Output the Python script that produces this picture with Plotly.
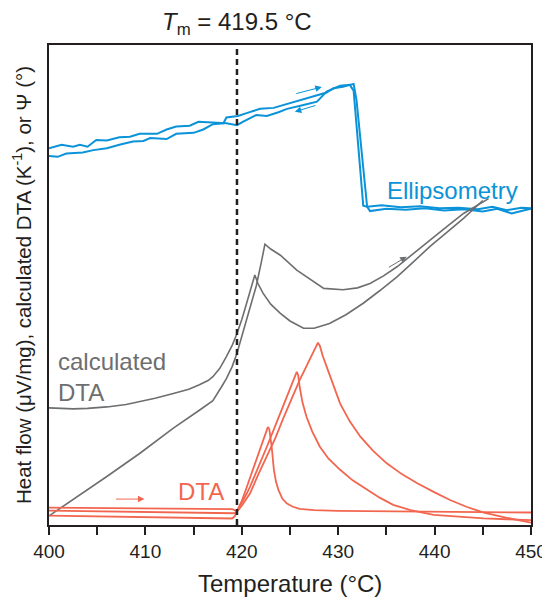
import plotly.graph_objects as go

# ---------------- data ----------------
# Ellipsometry (Psi), two sweeps
ell_a_T = [400.0, 400.9, 401.8, 403.5, 404.6, 406.0, 407.3, 408.7, 409.8, 410.5, 412.2, 413.2,
           415.0, 416.0, 417.0, 418.1, 418.4, 419.6, 420.5, 421.9, 423.3, 424.3, 425.7, 426.7,
           427.8, 428.8, 429.5, 430.5, 431.6, 431.9, 433.0, 433.3, 435.0, 437.0, 439.0, 441.0,
           443.0, 445.0, 446.5, 448.0, 449.0, 450.0]
ell_a_v = [76.9, 76.7, 77.4, 77.6, 78.1, 78.5, 79.2, 79.9, 80.0, 80.6, 80.4, 81.5,
           81.7, 82.4, 83.5, 83.7, 84.9, 85.2, 85.8, 86.7, 86.9, 87.5, 88.2, 88.9,
           89.6, 90.1, 91.0, 91.3, 91.9, 88.5, 66.3, 65.4, 65.9, 65.7, 66.0, 65.5,
           65.8, 65.3, 65.9, 64.9, 65.4, 65.9]
ell_b_T = [400.0, 401.3, 402.5, 403.2, 404.0, 404.9, 406.0, 407.3, 408.4, 409.4, 411.2, 412.2,
           413.2, 414.6, 415.5, 416.7, 418.4, 419.5, 420.1, 421.5, 422.6, 423.8, 424.7, 426.4,
           427.8, 428.8, 430.2, 431.2, 431.6, 432.6, 433.0, 434.5, 436.5, 438.5, 440.5, 442.5,
           444.5, 446.0, 447.5, 449.0, 450.0]
ell_b_v = [78.5, 79.2, 78.8, 79.2, 78.8, 80.2, 80.1, 80.8, 80.9, 81.5, 81.5, 82.4,
           83.0, 83.2, 84.0, 83.9, 83.7, 83.3, 84.0, 85.4, 85.2, 86.0, 86.7, 87.5,
           88.2, 90.3, 91.5, 91.7, 90.5, 66.5, 66.3, 66.6, 66.2, 66.4, 66.0, 66.1,
           65.8, 66.3, 65.6, 66.1, 66.0]

# calculated DTA, two sweeps
cdta_a_T = [400.0, 401.0, 402.5, 404.0, 406.0, 408.0, 409.4, 411.0, 412.9, 414.5, 415.6, 416.5,
            417.0, 417.7, 418.4, 419.0, 419.5, 420.0, 420.5, 421.0, 421.35, 421.7, 422.2, 423.0,
            424.0, 425.0, 426.4, 427.5, 429.1, 430.8, 432.6, 434.3, 436.1, 437.8, 439.5, 441.3,
            443.0, 445.0]
cdta_a_v = [24.4, 24.3, 24.2, 24.3, 24.6, 25.1, 25.7, 26.4, 27.4, 28.3, 29.2, 30.1,
            30.9, 32.6, 35.1, 37.4, 39.9, 42.8, 46.2, 49.5, 52.1, 50.2, 48.3, 46.0,
            44.1, 42.5, 41.0, 41.0, 42.0, 43.8, 46.2, 48.8, 51.7, 54.8, 58.0, 61.0,
            63.9, 67.6]
cdta_b_T = [400.0, 402.5, 406.0, 409.4, 412.9, 415.6, 417.0, 417.9, 418.4, 419.0, 419.5, 420.1,
            420.5, 421.0, 421.5, 422.0, 422.4, 423.0, 424.0, 425.7, 427.4, 428.5, 430.5, 432.0,
            433.3, 434.7, 436.1, 437.8, 439.5, 441.3, 443.0, 445.6]
cdta_b_v = [1.9, 5.3, 10.1, 14.9, 20.2, 23.9, 25.9, 28.8, 30.5, 33.0, 35.8, 40.0,
            42.7, 46.0, 49.8, 54.5, 58.5, 57.5, 56.2, 53.1, 50.7, 49.3, 49.0, 49.4,
            50.3, 51.9, 53.8, 56.6, 59.4, 62.2, 64.9, 68.0]

# measured DTA, three runs
dta1_T = [400.0, 419.0, 419.5, 420.0, 420.5, 420.9, 421.5, 422.0, 422.5, 422.7, 422.85, 423.0,
          423.1, 423.33, 423.55, 423.8, 424.2, 424.65, 425.3, 426.0, 427.5, 430.0, 440.0, 450.0]
dta1_v = [3.6, 3.3, 2.9, 5.0, 7.8, 10.1, 13.5, 16.5, 19.3, 20.4, 20.0, 18.0,
          16.3, 11.5, 9.0, 7.3, 5.5, 4.5, 3.8, 3.35, 3.1, 2.95, 2.8, 2.6]
dta2_T = [400.0, 419.2, 419.5, 420.0, 420.5, 420.86, 421.5, 422.0, 422.6, 423.5, 424.3, 425.0,
          425.5, 425.7, 425.85, 426.0, 426.3, 426.7, 427.3, 428.1, 429.0, 430.2, 431.5, 433.0,
          434.3, 435.7, 437.5, 439.9, 442.5, 445.1, 447.5, 450.0]
dta2_v = [3.0, 2.45, 2.8, 4.5, 6.5, 8.0, 11.0, 13.6, 16.3, 20.8, 24.7, 28.2,
          30.8, 31.9, 31.2, 28.8, 25.5, 22.6, 19.5, 16.3, 13.8, 11.5, 9.3, 7.3,
          5.7, 4.2, 3.1, 2.1, 1.7, 1.4, 1.2, 1.0]
dta3_T = [400.0, 418.6, 419.0, 419.3, 419.5, 420.0, 420.5, 420.86, 421.7, 422.6, 423.5, 424.3,
          425.2, 426.0, 427.0, 427.6, 427.9, 428.1, 428.4, 428.8, 429.5, 430.2, 431.2, 432.3,
          433.6, 435.0, 436.6, 438.2, 440.0, 441.6, 443.3, 445.1, 447.5, 450.0]
dta3_v = [1.95, 1.25, 1.35, 1.9, 2.8, 4.0, 5.4, 6.6, 10.5, 14.2, 18.2, 22.2,
          26.3, 30.2, 34.3, 36.9, 38.0, 37.3, 35.2, 33.0, 29.0, 25.3, 21.6, 18.4,
          15.5, 12.9, 10.6, 8.7, 6.8, 5.2, 3.8, 2.6, 1.5, 0.5]

T_melt = 419.5
x_tickvals = [400, 410, 420, 430, 440, 450]
x_ticktext = ["400", "410", "420", "430", "440", "450"]
x_minor_tickvals = [405, 415, 425, 435, 445]

# ---------------- style ----------------
BLUE = "#0a93d8"
GRAY = "#6d6e70"
RED = "#f26650"
INK = "#231f20"
FONT = "Liberation Sans, Arial, sans-serif"

fig = go.Figure()
for T, v in [(ell_a_T, ell_a_v), (ell_b_T, ell_b_v)]:
    fig.add_trace(go.Scatter(x=T, y=v, mode="lines", line=dict(color=BLUE, width=2), showlegend=False))
for T, v in [(cdta_a_T, cdta_a_v), (cdta_b_T, cdta_b_v)]:
    fig.add_trace(go.Scatter(x=T, y=v, mode="lines", line=dict(color=GRAY, width=1.6), showlegend=False))
for T, v in [(dta1_T, dta1_v), (dta2_T, dta2_v), (dta3_T, dta3_v)]:
    fig.add_trace(go.Scatter(x=T, y=v, mode="lines", line=dict(color=RED, width=1.8), showlegend=False))

fig.add_shape(type="line", x0=T_melt, x1=T_melt, y0=0, y1=1, xref="x", yref="paper",
              line=dict(color=INK, width=2.5, dash="6px,4px"))

annos = [
    dict(text="Ellipsometry", x=441.85, y=69.6, font=dict(color=BLUE, size=24)),
    dict(text="calculated<br>DTA", x=400.7, y=30.8, xanchor="left", align="left",
         font=dict(color=GRAY, size=24)),
    dict(text="DTA", x=415.75, y=6.9, font=dict(color=RED, size=24)),
]
for a in annos:
    a.setdefault("xanchor", "center")
    fig.add_annotation(xref="x", yref="y", showarrow=False, yanchor="middle", **a)

# arrows (head at x,y; tail at ax,ay)
arrows = [
    (428.3, 91.25, 425.5, 89.8, BLUE),
    (425.5, 86.1, 427.8, 87.5, BLUE),
    (437.1, 55.9, 435.1, 53.5, GRAY),
    (409.9, 5.4, 406.8, 5.4, RED),
]
for x, y, ax, ay, c in arrows:
    fig.add_annotation(x=x, y=y, ax=ax, ay=ay, xref="x", yref="y", axref="x", ayref="y",
                       text="", showarrow=True, arrowhead=2, arrowsize=1.3, arrowwidth=1,
                       arrowcolor=c, standoff=0, startstandoff=0)

fig.add_annotation(text="<i>T</i><sub>m</sub> = 419.5 °C", x=419.5, y=1.044, xref="x", yref="paper",
                   showarrow=False, xanchor="center", yanchor="middle", font=dict(size=24, color=INK))
fig.add_annotation(text="Heat flow (μV/mg), calculated DTA (K<sup>-1</sup>), or Ψ (°)",
                   x=-0.056, y=0.5, xref="paper", yref="paper", textangle=-90, showarrow=False,
                   xanchor="center", yanchor="middle", font=dict(size=20.5, color=INK))
fig.add_annotation(text="Temperature (°C)", x=0.5, y=-0.122, xref="paper", yref="paper",
                   showarrow=False, xanchor="center", yanchor="middle", font=dict(size=24, color=INK))

# figure is sized so that, with the page's 8px body margin, it fills the 550x600 window
fig.update_layout(
    width=542, height=592,
    margin=dict(l=41, r=19, t=37, b=75, autoexpand=False),
    plot_bgcolor="white", paper_bgcolor="white",
    font=dict(family=FONT, color=INK),
    xaxis=dict(range=[400, 450], tickvals=x_tickvals, ticktext=x_ticktext, ticks="outside",
               ticklen=8, tickwidth=1.5, tickcolor=INK, showline=True, linecolor=INK, linewidth=1.5,
               mirror=True, showgrid=False, zeroline=False, tickfont=dict(size=19), automargin=False,
               minor=dict(tickvals=x_minor_tickvals, ticks="outside", ticklen=8, tickwidth=1.5,
                          tickcolor=INK, showgrid=False)),
    yaxis=dict(range=[0, 100], showticklabels=False, ticks="", showline=True, linecolor=INK,
               linewidth=1.5, mirror=True, showgrid=False, zeroline=False, automargin=False),
)

fig.write_html("out.html")
